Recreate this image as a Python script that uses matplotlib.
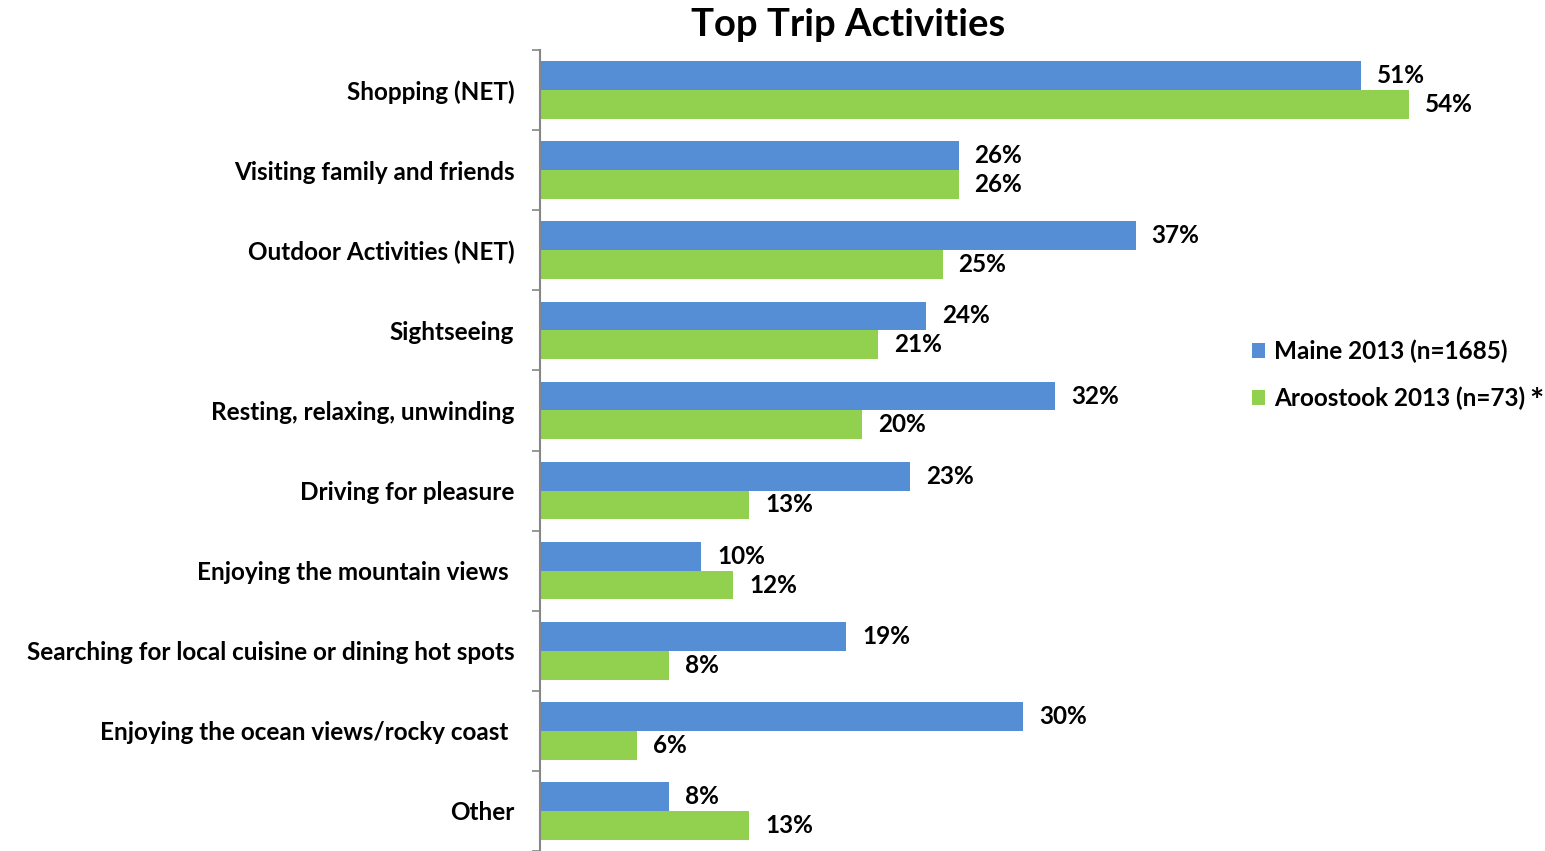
import matplotlib
matplotlib.use("Agg")
import matplotlib.pyplot as plt
import numpy as np

categories = ["Shopping (NET)", "Visiting family and friends", "Outdoor Activities (NET)",
              "Sightseeing", "Resting, relaxing, unwinding", "Driving for pleasure",
              "Enjoying the mountain views ", "Searching for local cuisine or dining hot spots",
              "Enjoying the ocean views/rocky coast ", "Other"]
maine = [51, 26, 37, 24, 32, 23, 10, 19, 30, 8]
aroostook = [54, 26, 25, 21, 20, 13, 12, 8, 6, 13]
series_names = ["Maine 2013 (n=1685)", "Aroostook 2013 (n=73)"]
colors = ["#558ED5", "#92D050"]

FONT = "Lato"
FS = 17.5
W, H = 1545, 851
fig = plt.figure(figsize=(W / 100, H / 100), dpi=100)
ax = fig.add_axes([540 / W, 0.0, 1 - 540 / W, 1 - 50 / H])

n = len(categories)
y = np.arange(n)
bh = 0.36
ax.barh(y - bh / 2, maine, height=bh, color=colors[0], label=series_names[0])
ax.barh(y + bh / 2, aroostook, height=bh, color=colors[1], label=series_names[1])

ax.set_ylim(n - 0.5, -0.5)
ax.set_xlim(0, (W - 540) / 16.1)

for i in range(n):
    ax.annotate(f"{maine[i]}%", (maine[i], y[i] - bh / 2), xytext=(16, 0), textcoords="offset pixels",
                va="center", ha="left", fontsize=FS, fontweight="bold", family=FONT)
    ax.annotate(f"{aroostook[i]}%", (aroostook[i], y[i] + bh / 2), xytext=(16, 0), textcoords="offset pixels",
                va="center", ha="left", fontsize=FS, fontweight="bold", family=FONT)

for s in ["top", "right", "bottom"]:
    ax.spines[s].set_visible(False)
ax.spines["left"].set_color("#868686")
ax.spines["left"].set_linewidth(1.5)
ax.set_xticks([])
ax.set_yticks(np.arange(-0.5, n, 1.0))
ax.set_yticklabels([])
ax.tick_params(axis="y", length=6, width=1.2, color="#868686")
ax.set_yticks(y, minor=True)
ax.set_yticklabels(categories, minor=True, fontsize=FS, fontweight="bold", family=FONT)
ax.tick_params(axis="y", which="minor", length=0, pad=18.5)

fig.text(848 / W, 1 - 25 / H, "Top Trip Activities", ha="center", va="center",
         fontsize=27.5, fontweight="bold", family=FONT)

leg = fig.legend(loc="upper left", bbox_to_anchor=(1230 / W, 1 - 318 / H), frameon=False,
                 prop={"family": FONT, "weight": "bold", "size": FS},
                 handlelength=0.55, handleheight=0.55, handletextpad=0.35, labelspacing=0.95)
fig.text(1529 / W, 1 - 402 / H, "*", ha="left", va="center", fontsize=24, fontweight="bold", family=FONT)

fig.savefig("out.png", dpi=100)
